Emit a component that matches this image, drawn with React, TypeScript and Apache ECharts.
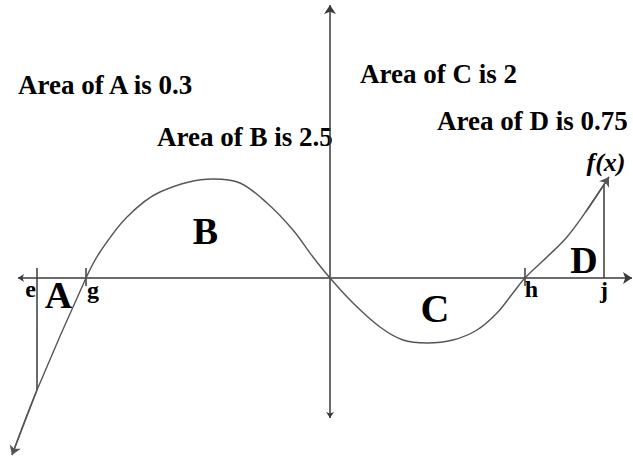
import React, { useEffect, useRef } from "react";
import * as echarts from "echarts";

// Curve f(x) (math units: 1 unit = 100 px, origin at axes crossing)
const curveX = [-3.18, -2.93, -2.44, -2.3, -2.03, -1.7, -1.17, -0.9, -0.63, -0.37, -0.17, 0, 0.23, 0.5, 0.73, 0.97, 1.23, 1.47, 1.67, 1.83, 1.95, 2.17, 2.37, 2.57, 2.79];
const curveY = [-1.77, -1.12, 0, 0.26, 0.61, 0.86, 0.99, 0.95, 0.75, 0.48, 0.21, 0, -0.25, -0.49, -0.62, -0.65, -0.62, -0.52, -0.35, -0.15, 0, 0.21, 0.41, 0.68, 1.01];

// Axes extents
const xAxisEnds = [-3.12, 3.02];
const yAxisEnds = [-1.4, 2.73];

// Marked x positions on the axis
const markNames = ["e", "g", "h", "j"];
const markX = [-2.93, -2.44, 1.95, 2.74];

// Region labels and areas
const regionNames = ["A", "B", "C", "D"];
const regionAreas = ["0.3", "2.5", "2", "0.75"];

const LINE = "#3a3a3a";
const CURVE = "#555555";
const FONT = "'Liberation Serif', 'Times New Roman', serif";

export default function App() {
  const ref = useRef<HTMLDivElement>(null);
  useEffect(() => {
    if (!ref.current) return;
    const chart = echarts.init(ref.current, undefined, { renderer: "svg" });
    const curve = curveX.map((x, i) => [x, curveY[i]]);
    const n = curve.length;
    const segs: any[] = [
      { coords: [[xAxisEnds[0], 0], [xAxisEnds[1], 0]], symbol: ["arrow", "arrow"] },
      { coords: [[0, yAxisEnds[0]], [0, yAxisEnds[1]]], symbol: ["arrow", "arrow"] },
      { coords: [curve[1], curve[0]], symbol: ["none", "arrow"], lineStyle: { color: CURVE, width: 1.4, opacity: 1 } },
      { coords: [curve[n - 2], curve[n - 1]], symbol: ["none", "arrow"], lineStyle: { color: CURVE, width: 1.4, opacity: 1 } },
      // e: vertical line down to curve
      { coords: [[markX[0], 0.1], [markX[0], curveY[1]]], symbol: ["none", "none"] },
      // g tick
      { coords: [[markX[1], 0.1], [markX[1], -0.08]], symbol: ["none", "none"] },
      // h tick
      { coords: [[markX[2], 0.1], [markX[2], -0.08]], symbol: ["none", "none"] },
      // j: vertical line up to curve
      { coords: [[markX[3], 0], [markX[3], 0.93]], symbol: ["none", "none"] },
    ];

    const txt = (text: string, x: number, y: number, size: number, align: string, extra: any = {}) => ({
      type: "text",
      x,
      y,
      silent: true,
      style: {
        text,
        fill: "#000",
        font: `${extra.italic ? "italic " : ""}bold ${size}px ${FONT}`,
        align,
        verticalAlign: "middle",
      },
    });

    const areaPos = [
      [18, 85],
      [157, 136.5],
      [360, 73.5],
      [437, 120.5],
    ];
    const letterPos = [
      [58.5, 295],
      [205.5, 230.5],
      [435, 308.5],
      [584, 259.5],
    ];
    const markPos = [
      [30.5, 289],
      [93, 290],
      [531.5, 289],
      [604, 290],
    ];

    const graphics: any[] = [];
    regionNames.forEach((r, i) => {
      graphics.push(txt(`Area of ${r} is ${regionAreas[i]}`, areaPos[i][0], areaPos[i][1], 27, "left"));
      graphics.push(txt(r, letterPos[i][0], letterPos[i][1], i === 2 ? 40 : 38, "center"));
    });
    markNames.forEach((m, i) => {
      graphics.push(txt(m, markPos[i][0], markPos[i][1], 24, "center"));
    });
    graphics.push(txt("f(x)", 606, 162, 26, "center", { italic: true }));

    chart.setOption({
      animation: false,
      backgroundColor: "#ffffff",
      grid: { left: 0, right: 0, top: 0, bottom: 0 },
      xAxis: { type: "value", min: -3.3, max: 3.03, show: false },
      yAxis: { type: "value", min: -1.81, max: 2.78, show: false },
      series: [
        {
          type: "line",
          data: curve,
          smooth: 0.35,
          showSymbol: false,
          symbol: "none",
          clip: false,
          lineStyle: { color: CURVE, width: 1.4 },
          silent: true,
        },
        {
          type: "lines",
          coordinateSystem: "cartesian2d",
          symbolSize: [6, 9],
          lineStyle: { color: LINE, width: 1.5, opacity: 1 },
          data: segs,
          silent: true,
        },
      ],
      graphic: graphics,
    });
    return () => chart.dispose();
  }, []);
  return <div ref={ref} style={{ position: "absolute", left: 0, top: 0, width: 633, height: 459 }} />;
}
